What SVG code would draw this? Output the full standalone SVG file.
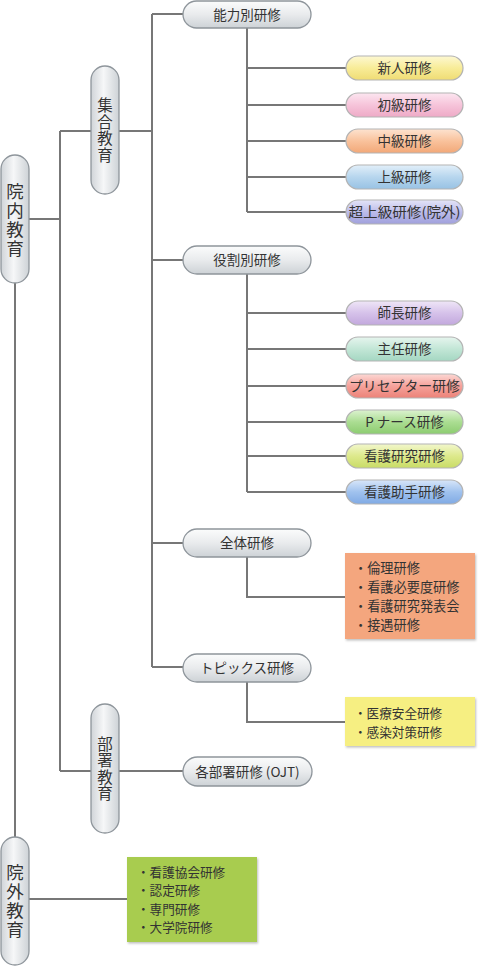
<svg xmlns="http://www.w3.org/2000/svg" width="479" height="967" viewBox="0 0 479 967">
<defs>
<linearGradient id="gGray" x1="0" y1="0" x2="0" y2="1"><stop offset="0" stop-color="#fbfcfc"/><stop offset="0.5" stop-color="#e9ebed"/><stop offset="1" stop-color="#cdd2d6"/></linearGradient>
<linearGradient id="gGrayV" x1="0" y1="0" x2="1" y2="0"><stop offset="0" stop-color="#d0d4d8"/><stop offset="0.45" stop-color="#f6f7f8"/><stop offset="1" stop-color="#cdd2d6"/></linearGradient>
<linearGradient id="gYel" x1="0" y1="0" x2="0" y2="1"><stop offset="0" stop-color="#fdf8d2"/><stop offset="0.5" stop-color="#f8ec98"/><stop offset="1" stop-color="#efdc74"/></linearGradient>
<linearGradient id="gPink" x1="0" y1="0" x2="0" y2="1"><stop offset="0" stop-color="#fce6f0"/><stop offset="0.5" stop-color="#f6c4da"/><stop offset="1" stop-color="#eeaac6"/></linearGradient>
<linearGradient id="gOra" x1="0" y1="0" x2="0" y2="1"><stop offset="0" stop-color="#fde3d0"/><stop offset="0.5" stop-color="#f9c29c"/><stop offset="1" stop-color="#f2a878"/></linearGradient>
<linearGradient id="gBlu" x1="0" y1="0" x2="0" y2="1"><stop offset="0" stop-color="#e2eff9"/><stop offset="0.5" stop-color="#b7d6ee"/><stop offset="1" stop-color="#98c2e4"/></linearGradient>
<linearGradient id="gInd" x1="0" y1="0" x2="0" y2="1"><stop offset="0" stop-color="#e4e4f7"/><stop offset="0.5" stop-color="#bcbcea"/><stop offset="1" stop-color="#a0a0dc"/></linearGradient>
<linearGradient id="gLav" x1="0" y1="0" x2="0" y2="1"><stop offset="0" stop-color="#efe6f7"/><stop offset="0.5" stop-color="#d6c2ea"/><stop offset="1" stop-color="#c2a8dd"/></linearGradient>
<linearGradient id="gMint" x1="0" y1="0" x2="0" y2="1"><stop offset="0" stop-color="#e6f5ee"/><stop offset="0.5" stop-color="#c2e6d6"/><stop offset="1" stop-color="#a4d7c2"/></linearGradient>
<linearGradient id="gRed" x1="0" y1="0" x2="0" y2="1"><stop offset="0" stop-color="#fcd8d4"/><stop offset="0.5" stop-color="#f5a29b"/><stop offset="1" stop-color="#ec8278"/></linearGradient>
<linearGradient id="gGrn" x1="0" y1="0" x2="0" y2="1"><stop offset="0" stop-color="#dcf2d0"/><stop offset="0.5" stop-color="#abdd92"/><stop offset="1" stop-color="#8ccc70"/></linearGradient>
<linearGradient id="gYG" x1="0" y1="0" x2="0" y2="1"><stop offset="0" stop-color="#f2f7cc"/><stop offset="0.5" stop-color="#dde98c"/><stop offset="1" stop-color="#c9dc66"/></linearGradient>
<linearGradient id="gBlu2" x1="0" y1="0" x2="0" y2="1"><stop offset="0" stop-color="#d8e6f9"/><stop offset="0.5" stop-color="#a0c2ee"/><stop offset="1" stop-color="#80aae4"/></linearGradient>
<filter id="sh" x="-10%" y="-10%" width="130%" height="130%"><feDropShadow dx="1" dy="1.5" stdDeviation="1.2" flood-color="#000" flood-opacity="0.25"/></filter>
<style>
.pill{stroke:#8e959b;stroke-width:1.3}
.cp{stroke:#b3b3b3;stroke-width:1.2}
.conn{fill:none;stroke:#777;stroke-width:2}
text{font-family:"Noto Sans CJK JP","Noto Sans",sans-serif;fill:#333}
.t{font-size:13.5px;text-anchor:middle}
.bt{font-size:13.2px}
.bt2{font-size:12.6px}
.vt1{font-size:17.5px;text-anchor:middle;writing-mode:vertical-rl;letter-spacing:1.5px}
.vt2{font-size:15.5px;text-anchor:middle;writing-mode:vertical-rl;letter-spacing:1px}
</style>
</defs>
<rect width="479" height="967" fill="#fff"/>
<g id="connectors" class="conn">
<path d="M15 283V837"/>
<path d="M29 219H60M60 131V771M60 131H91M60 771H91"/>
<path d="M119 131H152M152 14V667M152 14H183M152 260H183M152 543H183M152 667H183"/>
<path d="M119 771H183"/>
<path d="M247 28V212M247 68H346M247 105H346M247 141H346M247 177H346M247 212H346"/>
<path d="M247 274V492M247 313H346M247 349H346M247 386H346M247 422H346M247 456H346M247 492H346"/>
<path d="M247 557V597H345"/>
<path d="M247 682V722H345"/>
<path d="M29 899H127"/>
</g>
<g id="innai"><rect class="pill" x="1" y="155" width="28" height="128" rx="14" fill="url(#gGrayV)"/><text class="vt1" x="15" y="221">院内教育</text></g>
<g id="shugo"><rect class="pill" x="91" y="66" width="28" height="128" rx="14" fill="url(#gGrayV)"/><text class="vt2" x="105" y="130.5">集合教育</text></g>
<g id="busho"><rect class="pill" x="91" y="704" width="28" height="129" rx="14" fill="url(#gGrayV)"/><text class="vt2" x="105" y="769">部署教育</text></g>
<g id="ingai"><rect class="pill" x="1" y="837" width="28" height="128" rx="14" fill="url(#gGrayV)"/><text class="vt1" x="15" y="902">院外教育</text></g>
<g id="noryoku"><rect class="pill" x="183" y="1" width="128" height="27" rx="13.5" fill="url(#gGray)"/><text class="t" x="247" y="19.5">能力別研修</text></g>
<g id="yakuwari"><rect class="pill" x="183" y="246" width="128" height="28" rx="14" fill="url(#gGray)"/><text class="t" x="247" y="265">役割別研修</text></g>
<g id="zentai"><rect class="pill" x="183" y="529" width="128" height="28" rx="14" fill="url(#gGray)"/><text class="t" x="247" y="548">全体研修</text></g>
<g id="topics"><rect class="pill" x="183" y="654" width="128" height="28" rx="14" fill="url(#gGray)"/><text class="t" x="247" y="673">トピックス研修</text></g>
<g id="kakubusho"><rect class="pill" x="183" y="757" width="129" height="29" rx="14.5" fill="url(#gGray)"/><text class="t" x="247.5" y="776.5">各部署研修 (OJT)</text></g>
<g id="shinjin"><rect class="cp" x="346" y="56" width="117" height="24" rx="12" fill="url(#gYel)"/><text class="t" x="404.5" y="73">新人研修</text></g>
<g id="shokyu"><rect class="cp" x="346" y="93" width="117" height="24" rx="12" fill="url(#gPink)"/><text class="t" x="404.5" y="110">初級研修</text></g>
<g id="chukyu"><rect class="cp" x="346" y="129" width="117" height="24" rx="12" fill="url(#gOra)"/><text class="t" x="404.5" y="146">中級研修</text></g>
<g id="jokyu"><rect class="cp" x="346" y="165" width="117" height="24" rx="12" fill="url(#gBlu)"/><text class="t" x="404.5" y="182">上級研修</text></g>
<g id="chojokyu"><rect class="cp" x="346" y="200" width="117" height="24" rx="12" fill="url(#gInd)"/><text class="t" x="404.5" y="217" textLength="112" lengthAdjust="spacingAndGlyphs">超上級研修(院外)</text></g>
<g id="shicho"><rect class="cp" x="346" y="301" width="117" height="24" rx="12" fill="url(#gLav)"/><text class="t" x="404.5" y="318">師長研修</text></g>
<g id="shunin"><rect class="cp" x="346" y="337" width="117" height="24" rx="12" fill="url(#gMint)"/><text class="t" x="404.5" y="354">主任研修</text></g>
<g id="preceptor"><rect class="cp" x="346" y="374" width="117" height="24" rx="12" fill="url(#gRed)"/><text class="t" x="404.5" y="391" textLength="111" lengthAdjust="spacingAndGlyphs">プリセプター研修</text></g>
<g id="pnurse"><rect class="cp" x="346" y="410" width="117" height="24" rx="12" fill="url(#gGrn)"/><text class="t" x="404.5" y="427">P ナース研修</text></g>
<g id="kangokenkyu"><rect class="cp" x="346" y="444" width="117" height="24" rx="12" fill="url(#gYG)"/><text class="t" x="404.5" y="461">看護研究研修</text></g>
<g id="kangojoshu"><rect class="cp" x="346" y="480" width="117" height="24" rx="12" fill="url(#gBlu2)"/><text class="t" x="404.5" y="497">看護助手研修</text></g>
<g id="box-zentai"><rect x="345" y="553" width="130" height="86" fill="#f4a67e" filter="url(#sh)"/><text class="bt"><tspan x="354" y="573">・倫理研修</tspan><tspan x="354" y="592">・看護必要度研修</tspan><tspan x="354" y="611">・看護研究発表会</tspan><tspan x="354" y="630">・接遇研修</tspan></text></g>
<g id="box-topics"><rect x="345" y="697" width="130" height="49" fill="#f6ef82" filter="url(#sh)"/><text class="bt2"><tspan x="354" y="718">・医療安全研修</tspan><tspan x="354" y="736.5">・感染対策研修</tspan></text></g>
<g id="box-ingai"><rect x="127" y="857" width="130" height="85" fill="#a8cc50" filter="url(#sh)"/><text class="bt2"><tspan x="137" y="876.5">・看護協会研修</tspan><tspan x="137" y="895">・認定研修</tspan><tspan x="137" y="913.5">・専門研修</tspan><tspan x="137" y="932">・大学院研修</tspan></text></g>
</svg>
